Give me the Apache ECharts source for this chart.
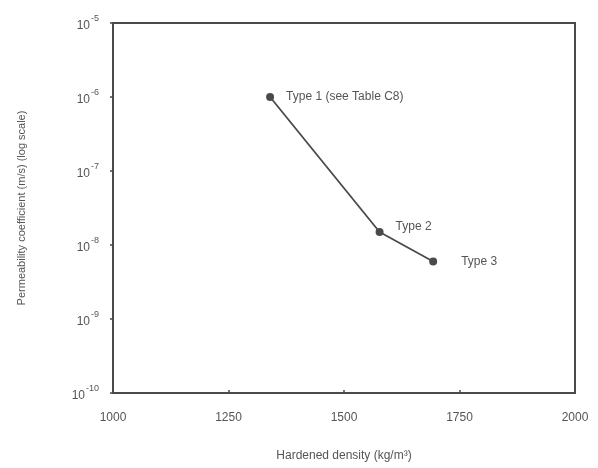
<!DOCTYPE html>
<html>
<head>
<meta charset="utf-8">
<script src="https://cdn.jsdelivr.net/npm/echarts@6/dist/echarts.min.js"></script>
<style>html,body{margin:0;padding:0;background:#fff;}#c{width:598px;height:468px;}</style>
</head>
<body>
<div id="c"></div>
<script>
const typeNames = ['Type 1 (see Table C8)', 'Type 2', 'Type 3'];
const density = [1340, 1577, 1693];
const permeability = [1.0e-6, 1.5e-8, 6.0e-9];
const yExponents = [-10, -9, -8, -7, -6, -5];
const xTicks = [1000, 1250, 1500, 1750, 2000];

const ink = '#4a4a4a';
const chart = echarts.init(document.getElementById('c'));
chart.setOption({
  backgroundColor: '#fff',
  animation: false,
  grid: { left: 113, top: 23, right: 23, bottom: 75, show: true, borderColor: ink, borderWidth: 2 },
  xAxis: {
    type: 'value', min: xTicks[0], max: xTicks[xTicks.length - 1], interval: 250,
    name: 'Hardened density (kg/m³)', nameLocation: 'middle', nameGap: 57,
    nameTextStyle: { fontFamily: 'Liberation Sans', fontSize: 12, color: '#555' },
    axisLine: { lineStyle: { color: ink, width: 2 } },
    axisTick: { inside: true, length: 3, lineStyle: { color: ink, width: 1.5 } },
    splitLine: { show: false },
    axisLabel: { fontFamily: 'Liberation Sans', fontSize: 12, color: '#555', margin: 19,
      formatter: function (v) { return String(v); } }
  },
  yAxis: {
    type: 'log', logBase: 10, min: Math.pow(10, yExponents[0]), max: Math.pow(10, yExponents[yExponents.length - 1]),
    name: 'Permeability coefficient (m/s) (log scale)', nameLocation: 'middle', nameGap: 86,
    nameTextStyle: { fontFamily: 'Liberation Sans', fontSize: 11, color: '#555' },
    axisLine: { lineStyle: { color: ink, width: 2 } },
    axisTick: { length: 3, lineStyle: { color: ink, width: 1.5 } },
    splitLine: { show: false },
    axisLabel: {
      margin: 14,
      formatter: function (v) {
        const e = Math.round(Math.log10(v));
        return '{b|10}{s|' + e + '}';
      },
      rich: {
        b: { fontFamily: 'Liberation Sans', fontSize: 12, color: '#555', padding: [6, 0, 0, 0] },
        s: { fontFamily: 'Liberation Sans', fontSize: 9, color: '#555', verticalAlign: 'top', padding: [0, 0, 8, 1] }
      }
    }
  },
  series: [{
    type: 'line',
    data: density.map((d, i) => [d, permeability[i]]),
    symbol: 'circle', symbolSize: 8,
    itemStyle: { color: ink },
    lineStyle: { color: ink, width: 1.8 },
    label: {
      show: true, position: 'right', distance: 12,
      fontFamily: 'Liberation Sans', fontSize: 12, color: '#555',
      formatter: function (p) { return typeNames[p.dataIndex]; }
    },
    labelLayout: function (p) {
      if (p.dataIndex === 1) return { dy: -5 };
      if (p.dataIndex === 2) return { dx: 12 };
      return {};
    }
  }]
});
</script>
</body>
</html>
